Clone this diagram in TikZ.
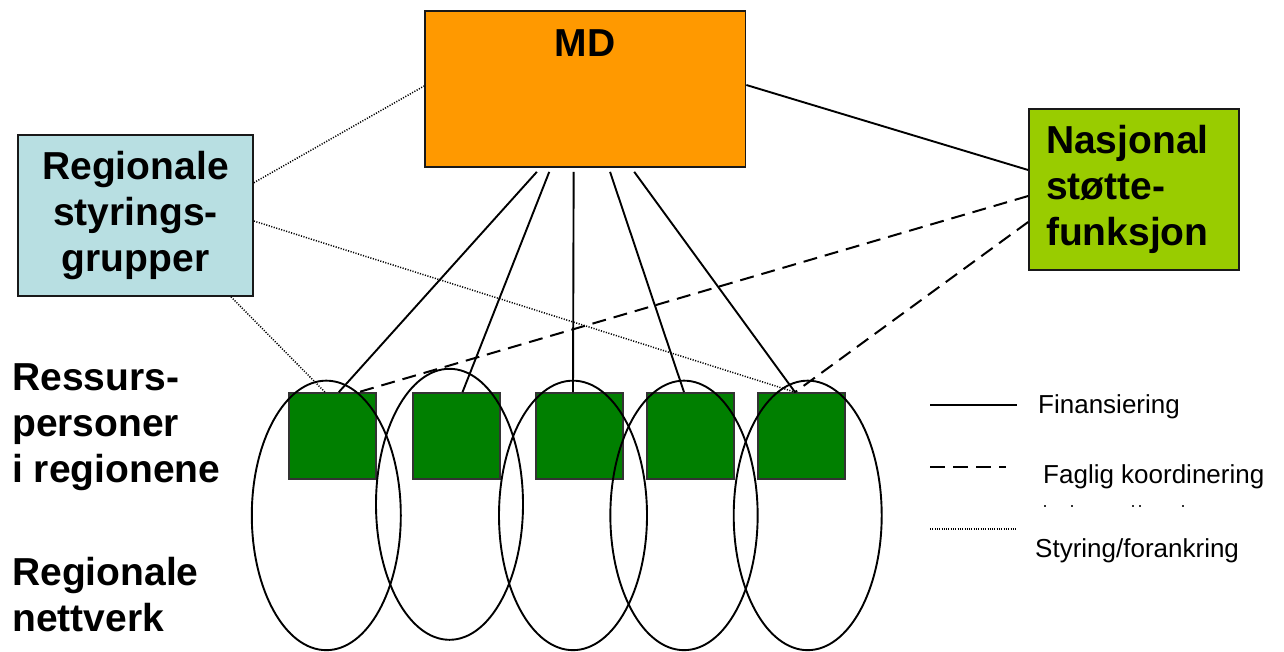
\documentclass[tikz,border=0pt]{standalone}
\usepackage{fontspec}
\setmainfont{Liberation Sans}
\usetikzlibrary{shapes.geometric}
\definecolor{mdorange}{HTML}{FF9900}
\definecolor{reglight}{HTML}{B8DFE2}
\definecolor{naslime}{HTML}{99CC00}
\definecolor{resgreen}{HTML}{007F00}
\begin{document}
\begin{tikzpicture}[x=1pt,y=-1pt,
  bigtext/.style={font=\fontsize{39}{46}\selectfont\bfseries},
  legtext/.style={font=\fontsize{26}{30}\selectfont, inner sep=0pt, anchor=base west},
  boxstyle/.style={draw=black!90, line width=1.7pt, inner sep=0pt},
  resbox/.style={draw=black!80, line width=1.7pt, fill=resgreen, minimum width=87pt, minimum height=86pt, inner sep=0pt},
  netell/.style={draw=black, line width=1.9pt, ellipse, inner sep=0pt},
  fin/.style={draw=black, line width=1.9pt},
  fag/.style={draw=black, line width=2pt, dash pattern=on 14pt off 8pt},
  sty/.style={draw=black, line width=1.5pt, dash pattern=on 1.1pt off 1.5pt}]
\useasboundingbox (0,0) rectangle (1284,651);

% top boxes
\node[boxstyle, fill=mdorange, minimum width=320.5pt, minimum height=156pt] (md) at (585.25,89) {};
\node[bigtext, inner sep=0pt] (mdlabel) at (585.25,43) {MD};
\node[boxstyle, fill=reglight, minimum width=235pt, minimum height=161pt, bigtext, align=center] (reg) at (135.5,215.5) {Regionale\\styrings-\\grupper};
\node[boxstyle, fill=naslime, minimum width=210pt, minimum height=161pt, bigtext, align=left, text width=176pt] (nas) at (1134,189.5) {Nasjonal\\støtte-\\funksjon};

% resource persons
\node[resbox] (r1) at (332.5,436) {};
\node[resbox] (r2) at (456.2,436) {};
\node[resbox] (r3) at (579.3,436) {};
\node[resbox] (r4) at (690.5,436) {};
\node[resbox] (r5) at (801.5,436) {};

% regional networks
\node[netell, minimum width=149pt, minimum height=269.5pt] (n1) at (326.3,515.4) {};
\node[netell, minimum width=147pt, minimum height=271pt] (n2) at (449.5,504.3) {};
\node[netell, minimum width=148pt, minimum height=269.5pt] (n3) at (573,515.4) {};
\node[netell, minimum width=147.3pt, minimum height=269.5pt] (n4) at (684,515.4) {};
\node[netell, minimum width=148pt, minimum height=269.5pt] (n5) at (807.7,515.4) {};

% financing
\draw[fin] ([xshift=-48.4pt,yshift=-4pt]md.south) -- ([xshift=6.3pt]r1.north);
\draw[fin] ([xshift=-36pt,yshift=-4pt]md.south) -- ([xshift=6.3pt]r2.north);
\draw[fin] ([xshift=-11.6pt,yshift=-4pt]md.south) -- ([xshift=-6.3pt]r3.north);
\draw[fin] ([xshift=24.8pt,yshift=-4pt]md.south) -- ([xshift=-6.5pt]r4.north);
\draw[fin] ([xshift=49pt,yshift=-4pt]md.south) -- ([xshift=-6.5pt]r5.north);
\draw[fin] ([yshift=4pt]md.east) -- ([yshift=19.5pt]nas.west);

% professional coordination
\draw[fag] ([yshift=-6.5pt]nas.west) -- ([xshift=26pt]r1.north);
\draw[fag] ([yshift=-32.5pt]nas.west) -- ([xshift=-6.5pt]r5.north);

% steering
\draw[sty] ([yshift=32.8pt]reg.east) -- ([yshift=3pt]md.west);
\draw[sty] ([yshift=-5.5pt]reg.east) -- ([xshift=-6.5pt]r5.north);
\draw[sty] ([xshift=95.5pt]reg.south) -- ([xshift=-7.5pt]r1.north);

% left labels
\node[bigtext, align=left, inner sep=0pt, anchor=north west] (lres) at (12,363) {Ressurs-\\personer\\i regionene};
\node[bigtext, align=left, inner sep=0pt, anchor=north west] (lnet) at (12,556.7) {Regionale\\nettverk};

% legend
\coordinate (lf1) at (930,405); \coordinate (lf2) at (1017,405);
\coordinate (lg1) at (930,467); \coordinate (lg2) at (1006,467);
\coordinate (ls1) at (930,529); \coordinate (ls2) at (1016,529);
\draw[fin] (lf1) -- (lf2);
\draw[fag, dash pattern=on 15pt off 8pt] (lg1) -- (lg2);
\draw[sty, line width=1.3pt, dash pattern=on 1pt off 1.3pt] (ls1) -- (ls2);
\node[legtext] (tfin) at (1038,413) {Finansiering};
\node[legtext] (tfag) at (1043,483) {Faglig koordinering};
\node[legtext] (tsty) at (1035,557) {Styring/forankring};
\foreach \xx in {1045,1072,1133,1140,1183}
  \fill[black!80] (\xx-1,505) rectangle (\xx+1,507);
\end{tikzpicture}
\end{document}
